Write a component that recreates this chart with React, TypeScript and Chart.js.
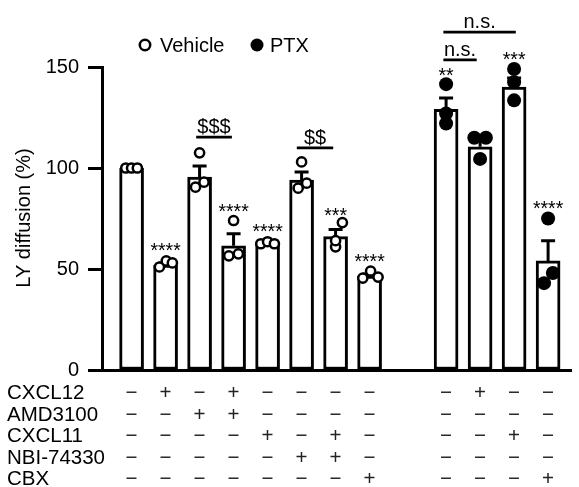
import { useEffect, useRef } from "react";
import { Chart, registerables } from "chart.js";

Chart.register(...registerables);

const FONT = '"Liberation Sans", Arial, Helvetica, sans-serif';

// ---------- data ----------
const groups = ["Vehicle", "Vehicle", "Vehicle", "Vehicle", "Vehicle", "Vehicle", "Vehicle", "Vehicle", "PTX", "PTX", "PTX", "PTX"];
const xPositions = [1, 2, 3, 4, 5, 6, 7, 8, 10.25, 11.25, 12.25, 13.25];
const means = [100, 52, 95.5, 61.5, 63, 94, 66, 46.5, 129, 110.5, 140, 54];
const sems = [0, 1, 5.5, 6, 0.5, 4, 3.5, 1, 5.6, 3.5, 4.6, 10];
const points = [
  [100, 100, 100],
  [51, 54, 53],
  [107.5, 90.5, 93],
  [74, 56.5, 57.5],
  [62.5, 63.5, 62.5],
  [103, 90, 92.5],
  [73, 61, 64],
  [45.5, 49, 46],
  [141.5, 127, 122],
  [115, 115, 104.5],
  [149, 142.5, 133.5],
  [75, 43, 48],
];
const jitter = [
  [-0.17, 0, 0.17],
  [-0.18, 0.02, 0.2],
  [0, -0.12, 0.13],
  [0, -0.14, 0.14],
  [-0.2, 0, 0.2],
  [0, -0.1, 0.15],
  [0.2, 0, 0],
  [-0.2, 0.03, 0.25],
  [0, 0, 0],
  [-0.17, 0.17, 0],
  [0, 0, 0],
  [0, -0.12, 0.14],
];
const yTicks = [0, 50, 100, 150];
const rowLabels = ["CXCL12", "AMD3100", "CXCL11", "NBI-74330", "CBX"];
const treatmentSigns = [
  ["−", "+", "−", "+", "−", "−", "−", "−", "−", "+", "−", "−"],
  ["−", "−", "+", "+", "−", "−", "−", "−", "−", "−", "−", "−"],
  ["−", "−", "−", "−", "+", "−", "+", "−", "−", "−", "+", "−"],
  ["−", "−", "−", "−", "−", "+", "+", "−", "−", "−", "−", "−"],
  ["−", "−", "−", "−", "−", "−", "−", "+", "−", "−", "−", "+"],
];
const starLabels = ["", "****", "", "****", "****", "", "***", "****", "**", "", "***", "****"];
const starValues = [0, 56, 0, 75.2, 65.3, 0, 73.3, 50.5, 142.6, 0, 150.5, 76.7];
const bracketTexts = ["$$$", "$$", "n.s.", "n.s."];
const bracketFrom = [2.9, 5.86, 10.17, 10.17];
const bracketTo = [3.95, 6.93, 11.15, 12.3];
const bracketValues = [115.3, 110, 153.5, 167.3];
const legendLabels = ["Vehicle", "PTX"];

export default function App() {
  const ref = useRef<HTMLCanvasElement | null>(null);

  useEffect(() => {
    if (!ref.current) return;

    const vehicleIdx = groups.map((g, i) => (g === "Vehicle" ? i : -1)).filter((i) => i >= 0);
    const ptxIdx = groups.map((g, i) => (g === "PTX" ? i : -1)).filter((i) => i >= 0);
    const pts = (idx: number[]) =>
      idx.flatMap((i) => points[i].map((v, j) => ({ x: xPositions[i] + jitter[i][j], y: v })));

    const annotate = {
      id: "annotate",
      beforeDatasetsDraw(chart: any) {
        const { ctx, scales } = chart;
        const x = scales.x, y = scales.y;
        ctx.save();
        ctx.strokeStyle = "#000";
        ctx.lineWidth = 3;
        means.forEach((m, i) => {
          const s = sems[i];
          if (!s) return;
          const px = x.getPixelForValue(xPositions[i]);
          const y0 = y.getPixelForValue(m);
          const y1 = y.getPixelForValue(m + s);
          ctx.beginPath();
          ctx.moveTo(px, y0);
          ctx.lineTo(px, y1);
          ctx.moveTo(px - 7, y1);
          ctx.lineTo(px + 7, y1);
          ctx.stroke();
        });
        ctx.restore();
      },
      afterDraw(chart: any) {
        const { ctx, scales } = chart;
        const x = scales.x, y = scales.y;
        ctx.save();
        ctx.fillStyle = "#000";
        ctx.strokeStyle = "#000";
        ctx.font = `20px ${FONT}`;

        // y title
        ctx.save();
        ctx.translate(24, 218);
        ctx.rotate(-Math.PI / 2);
        ctx.textAlign = "center";
        ctx.textBaseline = "middle";
        ctx.fillText("LY diffusion (%)", 0, 0);
        ctx.restore();

        // legend
        ctx.textAlign = "left";
        ctx.textBaseline = "alphabetic";
        ctx.lineWidth = 2.5;
        ctx.beginPath();
        ctx.arc(145, 45, 5.2, 0, Math.PI * 2);
        ctx.fillStyle = "#fff";
        ctx.fill();
        ctx.stroke();
        ctx.fillStyle = "#000";
        ctx.fillText(legendLabels[0], 160, 52);
        ctx.beginPath();
        ctx.arc(257, 45, 6.5, 0, Math.PI * 2);
        ctx.fill();
        ctx.fillText(legendLabels[1], 270, 52);

        // stars
        ctx.font = `19.5px ${FONT}`;
        ctx.textAlign = "center";
        starLabels.forEach((s, i) => {
          if (!s) return;
          ctx.fillText(s, x.getPixelForValue(xPositions[i]), y.getPixelForValue(starValues[i]));
        });

        // brackets
        ctx.font = `20px ${FONT}`;
        ctx.lineWidth = 2.7;
        bracketTexts.forEach((t, i) => {
          const x0 = x.getPixelForValue(bracketFrom[i]);
          const x1 = x.getPixelForValue(bracketTo[i]);
          const py = y.getPixelForValue(bracketValues[i]);
          ctx.beginPath();
          ctx.moveTo(x0, py);
          ctx.lineTo(x1, py);
          ctx.stroke();
          ctx.fillText(t, (x0 + x1) / 2, py - 4);
        });

        // treatment table
        ctx.font = `20.5px ${FONT}`;
        const rowY = [392, 413.5, 435, 456.5, 478];
        rowLabels.forEach((lab, r) => {
          ctx.textAlign = "left";
          ctx.fillStyle = "#000";
          ctx.fillText(lab, 7, rowY[r] + 7);
          ctx.textAlign = "center";
          ctx.fillStyle = "#222";
          treatmentSigns[r].forEach((s, i) => {
            ctx.fillText(s, x.getPixelForValue(xPositions[i]), rowY[r] + 7);
          });
        });
        ctx.restore();
      },
    };

    const chart = new Chart(ref.current, {
      type: "bar",
      data: {
        datasets: [
          {
            type: "bar",
            label: "mean",
            data: xPositions.map((xv, i) => ({ x: xv, y: means[i] })) as any,
            backgroundColor: "#fff",
            borderColor: "#000",
            borderWidth: 3,
            borderSkipped: false,
            barThickness: 24,
            order: 2,
            clip: false,
          } as any,
          {
            type: "scatter",
            label: legendLabels[0],
            data: pts(vehicleIdx),
            pointStyle: "circle",
            pointRadius: 4.6,
            pointBorderWidth: 2.5,
            pointBorderColor: "#000",
            pointBackgroundColor: "#fff",
            order: 1,
            clip: false,
          } as any,
          {
            type: "scatter",
            label: legendLabels[1],
            data: pts(ptxIdx),
            pointStyle: "circle",
            pointRadius: 7,
            pointBorderWidth: 0,
            pointBackgroundColor: "#000",
            order: 0,
            clip: false,
          } as any,
        ],
      },
      options: {
        responsive: false,
        animation: false,
        layout: { padding: { top: 67, left: 0, right: 0, bottom: 0 } },
        plugins: { legend: { display: false }, tooltip: { enabled: false } },
        scales: {
          x: {
            type: "linear",
            min: 0.13,
            max: 13.95,
            offset: false,
            z: 1,
            grid: { display: false },
            border: { display: true, color: "#000", width: 3 },
            ticks: { display: false },
            afterFit: (s: any) => {
              s.height = 117;
            },
          },
          y: {
            type: "linear",
            min: 0,
            max: 150,
            z: 1,
            afterBuildTicks: (s: any) => {
              s.ticks = yTicks.map((v) => ({ value: v }));
            },
            grid: {
              display: true,
              drawOnChartArea: false,
              drawTicks: true,
              tickLength: 14,
              tickWidth: 3,
              tickColor: "#000",
            },
            border: { display: true, color: "#000", width: 3 },
            ticks: {
              padding: 9,
              color: "#000",
              font: { family: FONT, size: 20 },
            },
            afterFit: (s: any) => {
              s.width = 102;
            },
          },
        },
      },
      plugins: [annotate],
    } as any);

    return () => chart.destroy();
  }, []);

  return (
    <div style={{ position: "absolute", left: 0, top: 0, width: 579, height: 487, background: "#fff" }}>
      <canvas ref={ref} width={579} height={487} style={{ display: "block", width: 579, height: 487 }} />
    </div>
  );
}
